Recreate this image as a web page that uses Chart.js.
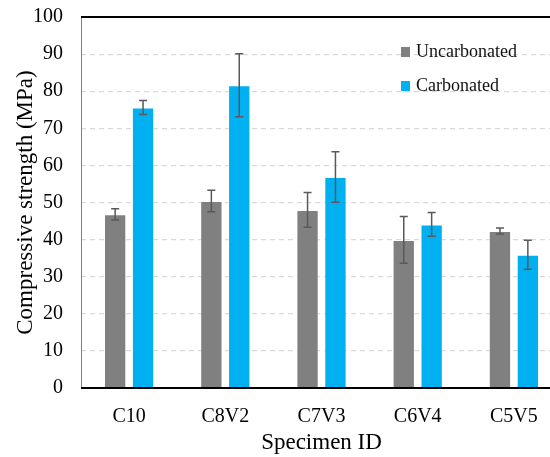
<!DOCTYPE html>
<html>
<head>
<meta charset="utf-8">
<script src="https://cdn.jsdelivr.net/npm/chart.js@4"></script>
<style>
  html, body { margin: 0; padding: 0; background: #fff; }
  #wrap { width: 550px; height: 457px; overflow: hidden; }
  #box { width: 562px; height: 470px; margin-top: -13px; }
</style>
</head>
<body>
<div id="wrap"><div id="box"><canvas id="myChart"></canvas></div></div>
<script>
// specimen groups
const specimens = ['C10', 'C8V2', 'C7V3', 'C6V4', 'C5V5'];
const seriesNames = ['Uncarbonated', 'Carbonated'];

// mean compressive strength (MPa)
const uncarbonated = [46.8, 50.4, 48.0, 39.9, 42.3];
const carbonated = [75.6, 81.6, 56.9, 44.1, 35.9];

// standard deviation for the error bars
const uncarbonatedErr = [1.5, 2.9, 4.7, 6.3, 0.8];
const carbonatedErr = [1.9, 8.5, 6.8, 3.2, 3.9];

const yTicks = [0, 10, 20, 30, 40, 50, 60, 70, 80, 90, 100];

const serif = "'Liberation Serif', 'Times New Roman', serif";
const colors = ['#808080', '#00B0F0'];
const errors = [uncarbonatedErr, carbonatedErr];

// error bars, top/bottom frame and legend
const extras = {
    id: 'extras',
    afterDatasetsDraw(chart) {
        const ctx = chart.ctx;
        const y = chart.scales.y;
        ctx.save();
        ctx.strokeStyle = '#595959';
        ctx.lineWidth = 1.5;
        chart.data.datasets.forEach((ds, i) => {
            const meta = chart.getDatasetMeta(i);
            meta.data.forEach((bar, j) => {
                const v = ds.data[j];
                const e = errors[i][j];
                const yTop = y.getPixelForValue(v + e);
                const yBot = y.getPixelForValue(v - e);
                ctx.beginPath();
                ctx.moveTo(bar.x, yTop);
                ctx.lineTo(bar.x, yBot);
                ctx.moveTo(bar.x - 4, yTop);
                ctx.lineTo(bar.x + 4, yTop);
                ctx.moveTo(bar.x - 4, yBot);
                ctx.lineTo(bar.x + 4, yBot);
                ctx.stroke();
            });
        });
        ctx.restore();
    },
    afterDraw(chart) {
        const ctx = chart.ctx;
        const a = chart.chartArea;
        ctx.save();
        // left axis
        ctx.strokeStyle = '#7f7f7f';
        ctx.lineWidth = 1;
        ctx.beginPath();
        ctx.moveTo(a.left + 0.5, a.top);
        ctx.lineTo(a.left + 0.5, a.bottom);
        ctx.stroke();
        // top and bottom
        ctx.strokeStyle = '#000';
        ctx.lineWidth = 2;
        ctx.beginPath();
        ctx.moveTo(a.left, a.top);
        ctx.lineTo(a.right, a.top);
        ctx.moveTo(a.left, a.bottom);
        ctx.lineTo(a.right, a.bottom);
        ctx.stroke();
        // legend
        ctx.font = '18px ' + serif;
        ctx.textBaseline = 'middle';
        ctx.textAlign = 'left';
        chart.data.datasets.forEach((ds, i) => {
            const ly = a.top + 35 + i * 34;
            ctx.fillStyle = ds.backgroundColor;
            ctx.fillRect(401, ly - 5, 9, 10);
            ctx.fillStyle = '#111';
            ctx.fillText(ds.label, 416, ly);
        });
        ctx.restore();
    }
};

const ctx = document.getElementById('myChart').getContext('2d');
const myChart = new Chart(ctx, {
    type: 'bar',
    data: {
        labels: specimens,
        datasets: [{
            label: seriesNames[0],
            data: uncarbonated,
            backgroundColor: colors[0],
            borderColor: 'rgba(255,255,255,0.5)',
            borderWidth: 1
        }, {
            label: seriesNames[1],
            data: carbonated,
            backgroundColor: colors[1],
            borderColor: 'rgba(255,255,255,0.5)',
            borderWidth: 1
        }]
    },
    options: {
        animation: false,
        responsive: true,
        maintainAspectRatio: false,
        layout: { padding: { top: 4, right: 0, left: 0, bottom: 0 } },
        datasets: {
            bar: { categoryPercentage: 0.58, barPercentage: 0.8 }
        },
        plugins: {
            legend: { display: false },
            tooltip: { enabled: false }
        },
        scales: {
            x: {
                grid: { display: false },
                border: { display: false },
                ticks: {
                    color: '#000',
                    padding: 9,
                    font: { family: serif, size: 20 }
                },
                title: {
                    display: true,
                    text: 'Specimen ID',
                    color: '#000',
                    padding: { top: 0, bottom: 0 },
                    font: { family: serif, size: 23 }
                },
                afterFit(scale) { scale.height = 69; }
            },
            y: {
                min: 0,
                max: 100,
                afterBuildTicks(scale) {
                    scale.ticks = yTicks.map(v => ({ value: v }));
                },
                grid: {
                    drawTicks: false,
                    color: c => (c.tick.value === 0 || c.tick.value === 100) ? 'rgba(0,0,0,0)' : '#d9d9d9',
                    lineWidth: 1.2
                },
                border: { display: false, dash: [5, 4] },
                ticks: {
                    color: '#000',
                    padding: 18,
                    font: { family: serif, size: 20 }
                },
                title: {
                    display: true,
                    text: 'Compressive strength (MPa)',
                    color: '#000',
                    padding: { top: 12, bottom: 0 },
                    font: { family: serif, size: 23 }
                },
                afterFit(scale) { scale.width = 81; }
            }
        }
    },
    plugins: [extras]
});
</script>
</body>
</html>
